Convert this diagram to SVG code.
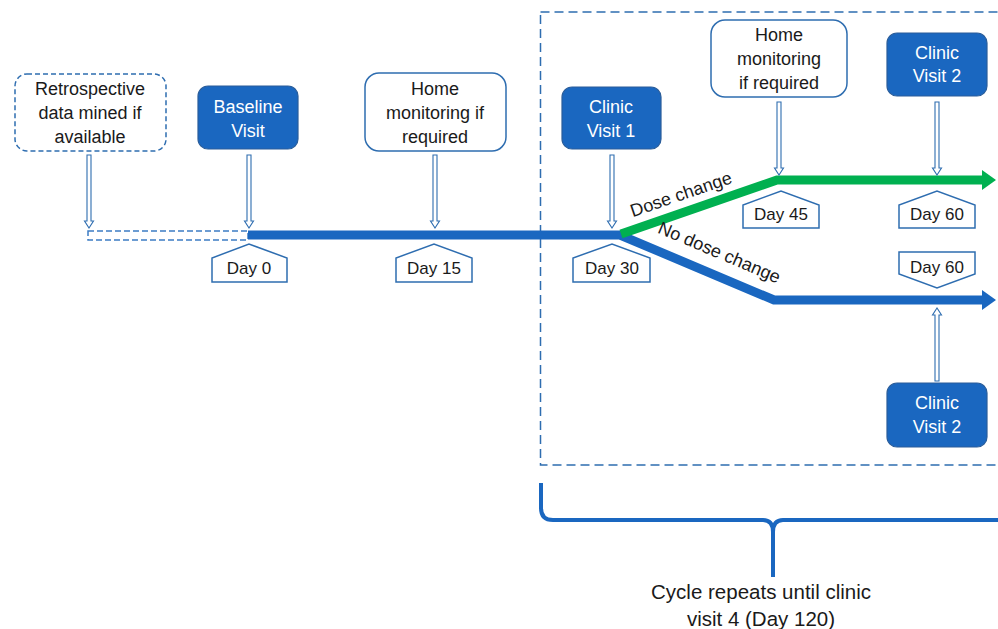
<svg xmlns="http://www.w3.org/2000/svg" width="998" height="629" viewBox="0 0 998 629">
<style>
text{font-family:"Liberation Sans",Arial,sans-serif;font-size:18px;fill:#1a1a1a;text-anchor:middle}
.w{fill:#fff}
.d{font-size:17px}
.cap{font-size:20.5px}
.solid{fill:#1a67c0;stroke:#2a5d9a;stroke-width:1.2}
.open{fill:#fff;stroke:#2e6db0;stroke-width:1.5}
.tag{fill:#fff;stroke:#2e6db0;stroke-width:1.5}
.arr{fill:#fff;stroke:#2e6db0;stroke-width:1.1}
</style>
<defs>
<path id="dn" d="M-2,0 L2,0 L2,66 L4.5,66 L0,73 L-4.5,66 L-2,66 Z"/>
</defs>
<rect x="540.5" y="12" width="470" height="453" fill="none" stroke="#2e6db0" stroke-width="1.5" stroke-dasharray="9,5"/>
<g id="connectors">
<rect x="88" y="231" width="160" height="9" fill="none" stroke="#3d7cc4" stroke-width="1.5" stroke-dasharray="6,3"/>
<path d="M248,235 L620,235 L774,300 L984,300" fill="none" stroke="#1a67c0" stroke-width="9" stroke-linejoin="miter"/>
<polygon points="982,290 996,300 982,310" fill="#1a67c0"/>
<path d="M621,234 L777,180 L984,180" fill="none" stroke="#00b050" stroke-width="9"/>
<polygon points="982,170 996,180 982,190" fill="#00b050"/>
<use href="#dn" class="arr" x="89" y="155"/>
<use href="#dn" class="arr" x="249" y="155"/>
<use href="#dn" class="arr" x="435" y="155"/>
<use href="#dn" class="arr" x="612" y="155"/>
<use href="#dn" class="arr" x="779" y="102"/>
<use href="#dn" class="arr" x="937" y="102"/>
<use href="#dn" class="arr" transform="translate(937,381) scale(1,-1)"/>
<text transform="translate(683,200) rotate(-19)">Dose change</text>
<text transform="translate(717,258) rotate(23)">No dose change</text>
<path d="M541,483 L541,508 Q541,520 553,520 L763,520 Q773,520 773,532 L773,577 M773,532 Q773,520 783,520 L1000,520" fill="none" stroke="#1a67c0" stroke-width="4"/>
</g>
<g id="retro">
<rect x="15" y="74" width="151" height="77" rx="12" fill="#fff" stroke="#2e6db0" stroke-width="1.5" stroke-dasharray="5,3"/>
<text x="90" y="95">Retrospective</text>
<text x="90" y="119">data mined if</text>
<text x="90" y="143">available</text>
</g>
<g id="baseline">
<rect class="solid" x="198" y="86" width="100" height="63" rx="10"/>
<text class="w" x="248" y="113">Baseline</text>
<text class="w" x="248" y="137">Visit</text>
</g>
<g id="home1">
<rect class="open" x="365" y="73" width="141" height="78" rx="14"/>
<text x="435" y="95">Home</text>
<text x="435" y="119">monitoring if</text>
<text x="435" y="143">required</text>
</g>
<g id="clinic1">
<rect class="solid" x="562" y="87" width="99" height="62" rx="10"/>
<text class="w" x="611" y="113">Clinic</text>
<text class="w" x="611" y="137">Visit 1</text>
</g>
<g id="home2">
<rect class="open" x="711" y="20" width="136" height="77" rx="14"/>
<text x="779" y="41">Home</text>
<text x="779" y="65">monitoring</text>
<text x="779" y="89">if required</text>
</g>
<g id="clinic2top">
<rect class="solid" x="887" y="33" width="100" height="63" rx="10"/>
<text class="w" x="937" y="59">Clinic</text>
<text class="w" x="937" y="82">Visit 2</text>
</g>
<g id="clinic2bottom">
<rect class="solid" x="887" y="383" width="100" height="64" rx="10"/>
<text class="w" x="937" y="409">Clinic</text>
<text class="w" x="937" y="433">Visit 2</text>
</g>
<g id="day0">
<polygon class="tag" points="212,282 212,258 249,244 287,258 287,282"/>
<text class="d" x="249" y="274">Day 0</text>
</g>
<g id="day15">
<polygon class="tag" points="396,282 396,258 434,244 472,258 472,282"/>
<text class="d" x="434" y="274">Day 15</text>
</g>
<g id="day30">
<polygon class="tag" points="573,282 573,258 612,244 650,258 650,282"/>
<text class="d" x="612" y="274">Day 30</text>
</g>
<g id="day45">
<polygon class="tag" points="743,228 743,205 781,191 819,205 819,228"/>
<text class="d" x="781" y="220">Day 45</text>
</g>
<g id="day60top">
<polygon class="tag" points="899,228 899,205 937,191 975,205 975,228"/>
<text class="d" x="937" y="220">Day 60</text>
</g>
<g id="day60bottom">
<polygon class="tag" points="899,252 975,252 975,274 937,288 899,274"/>
<text class="d" x="937" y="273">Day 60</text>
</g>
<g id="caption">
<text class="cap" x="761" y="599">Cycle repeats until clinic</text>
<text class="cap" x="761" y="626">visit 4 (Day 120)</text>
</g>
</svg>
